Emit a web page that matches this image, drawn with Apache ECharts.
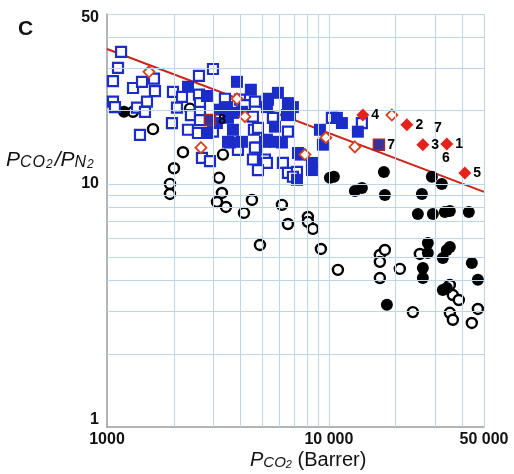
<!DOCTYPE html>
<html>
<head>
<meta charset="utf-8">
<script src="https://cdn.jsdelivr.net/npm/echarts@6/dist/echarts.min.js"></script>
<style>
  html, body { margin: 0; padding: 0; background: #ffffff; }
  #chart { width: 514px; height: 474px; }
</style>
</head>
<body>
<div id="chart"></div>
<script>
// Axis ticks and grid positions (log-log plot)
const xTickLabels = [1000, 10000, 50000];
const yTickLabels = [1, 10, 50];
const xGridValues = [2000, 3000, 4000, 5000, 6000, 7000, 8000, 9000, 10000, 20000, 30000, 40000, 50000];
const yGridValues = [2, 3, 4, 5, 6, 7, 8, 9, 10, 20, 30, 40, 50];

// Upper bound line: [PCO2, selectivity]
const upperBound = [[1000, 35.9], [50000, 9.27]];

// Blue open squares
const blueOpen = [
  [1157, 34.9], [1121, 30.0], [1064, 26.5], [1310, 24.8], [1438, 26.3], [1628, 27.1],
  [1645, 24.1], [1064, 21.8], [1086, 20.7], [1514, 21.8], [1365, 20.6], [1483, 19.8],
  [1408, 15.9], [1983, 23.9], [2177, 22.8], [2067, 20.6], [1962, 17.8], [2597, 27.8],
  [3003, 29.7], [2597, 23.3], [2389, 19.2], [2624, 21.5], [2317, 16.7], [2624, 19.8],
  [2624, 18.3], [2570, 16.2], [2679, 12.8], [2911, 12.4], [3400, 22.4], [3003, 16.4],
  [3974, 22.2], [4184, 21.1], [4547, 18.9], [4595, 16.7], [4740, 14.1], [5313, 22.4],
  [5593, 18.7], [6537, 16.4], [3892, 13.8], [4547, 12.6], [5149, 12.6],
  [5257, 12.2], [6206, 12.2], [4642, 21.8], [4789, 17.0], [6537, 11.1], [7178, 11.2],
  [6885, 10.7], [4789, 11.4], [10316, 18.7], [14079, 17.8], [4642, 14.1]
];

// Blue filled squares
const blueFilled = [
  [2317, 25.1], [2821, 23.0], [3852, 26.3], [4450, 24.4], [3228, 20.2], [3472, 20.7],
  [3695, 19.6], [3695, 16.7], [3582, 14.8], [4057, 14.9], [2821, 16.2], [3130, 17.8],
  [3508, 18.7], [4057, 19.8], [3508, 14.9], [5257, 20.7], [5891, 23.7], [6674, 20.7],
  [5712, 14.9], [6141, 14.8], [5257, 15.2], [6674, 19.2], [5313, 22.2], [6537, 21.5],
  [6885, 20.7], [6469, 19.2], [5712, 17.2], [5149, 14.9], [7252, 13.4], [8384, 12.2],
  [8384, 11.4], [7178, 10.4], [9110, 16.7], [9397, 14.5], [11445, 17.8], [13508, 16.4],
  [10866, 18.7], [7404, 13.2]
];

// Numbered squares
const numberedSquares = [[2911, 18.3, '8'], [16800, 14.5, '7']];

// Black open circles
const blackOpen = [
  [1310, 19.8], [1612, 16.8], [2365, 20.4], [2200, 13.5], [2004, 11.6], [1922, 10.0],
  [1922, 9.09], [3331, 13.2], [3196, 10.6], [3296, 9.18], [3130, 8.43], [3436, 8.04],
  [4142, 7.60], [4500, 8.59], [6141, 8.20], [6537, 6.84], [8043, 7.31], [8043, 6.98],
  [8472, 6.53], [4890, 5.61], [9205, 5.40], [10980, 4.43], [16970, 5.10], [17880, 5.35],
  [16970, 4.78], [20880, 4.47], [16970, 4.10], [25700, 5.15], [35080, 3.84], [36190, 3.49],
  [38500, 3.33], [35080, 2.95], [36190, 2.76], [44060, 2.68], [46920, 3.06], [23900, 2.97]
];

// Black filled circles
const blackFilled = [
  [1193, 19.8], [10105, 10.6], [10531, 10.7], [13094, 9.36], [14079, 9.63], [17690, 11.2],
  [17880, 9.01], [29110, 10.7], [32280, 10.0], [26240, 9.09], [25170, 7.52], [29410, 7.52],
  [33300, 7.67], [35080, 7.74], [42710, 7.67], [27920, 5.72], [27920, 5.20], [35080, 5.50],
  [34000, 5.35], [32620, 4.96], [26510, 4.51], [26510, 4.10], [44060, 4.73], [46920, 4.03],
  [32620, 3.66], [34000, 3.73], [18254, 3.18]
];

// Red open diamonds
const redOpen = [
  [1546, 28.9], [2651, 14.1], [3852, 22.4], [4184, 18.9], [7800, 13.2], [9694, 15.5],
  [13094, 14.2], [19224, 19.2]
];

// Red filled diamonds with their numbers
const redFilled = [
  [14227, 19.2, '4'], [22460, 17.5, '2'], [26510, 14.5, '3'], [34000, 14.6, '1'], [40980, 11.1, '5']
];

// Free-standing numbers
const freeNumbers = [[30970, 17.0, '7'], [33650, 12.8, '6']];

const FONT = 'Liberation Sans, Arial, sans-serif';
const BLUE = '#1b2cc8';
const RED = '#e3231b';
const GRID = '#bdd6ee';

const numLabel = {
  show: true,
  position: 'right',
  distance: 2,
  color: '#000',
  opacity: 1,
  fontFamily: FONT,
  fontWeight: 'bold',
  fontSize: 14,
  formatter: p => p.value[2]
};

function fmtX(v) {
  return v >= 10000 ? String(v).replace(/(\d)(?=(\d{3})+$)/g, '$1 ') : String(v);
}

const chart = echarts.init(document.getElementById('chart'), null, { renderer: 'canvas' });

chart.setOption({
  backgroundColor: '#ffffff',
  animation: false,
  grid: { left: 107, right: 30, top: 14, bottom: 47, containLabel: false },
  xAxis: {
    type: 'log',
    logBase: 10,
    min: 1000,
    max: 50000,
    axisLine: { show: true, lineStyle: { color: '#9a9a9a', width: 1.5 } },
    axisTick: { show: false },
    splitLine: { show: false },
    axisLabel: {
      customValues: xTickLabels,
      formatter: v => fmtX(v),
      color: '#111',
      fontFamily: FONT,
      fontWeight: 'bold',
      fontSize: 16,
      margin: 5
    }
  },
  yAxis: {
    type: 'log',
    logBase: 10,
    min: 1,
    max: 50,
    axisLine: { show: true, lineStyle: { color: '#9a9a9a', width: 1.5 } },
    axisTick: { show: false },
    splitLine: { show: false },
    axisLabel: {
      customValues: yTickLabels,
      formatter: v => '{t' + v + '|' + v + '}',
      color: '#111',
      fontFamily: FONT,
      fontWeight: 'bold',
      fontSize: 16,
      margin: 8,
      rich: {
        t1: { fontFamily: FONT, fontWeight: 'bold', fontSize: 16, color: '#111', padding: [0, 0, 14, 0] },
        t10: { fontFamily: FONT, fontWeight: 'bold', fontSize: 16, color: '#111' },
        t50: { fontFamily: FONT, fontWeight: 'bold', fontSize: 16, color: '#111', padding: [8, 0, 0, 0] }
      }
    }
  },
  graphic: [
    {
      type: 'text', left: 18, top: 19,
      style: { text: 'C', fontFamily: FONT, fontWeight: 'bold', fontSize: 21, fill: '#111' }
    },
    {
      type: 'text', left: 6, top: 150,
      style: {
        text: '{p|P}{s|C}{s|O}{b|2}{p|/P}{s|N}{b|2}',
        rich: {
          p: { fontFamily: FONT, fontStyle: 'italic', fontSize: 21, fill: '#111', verticalAlign: 'bottom' },
          s: { fontFamily: FONT, fontStyle: 'italic', fontSize: 16, fill: '#111', verticalAlign: 'bottom', padding: [0, 1, 0, 0] },
          b: { fontFamily: FONT, fontStyle: 'italic', fontSize: 12, fill: '#111', verticalAlign: 'bottom', padding: [0, 2, 0, 0] }
        }
      }
    },
    {
      type: 'text', left: 250, top: 450,
      style: {
        text: '{p|P}{s|CO}{b|2}{r| (Barrer)}',
        rich: {
          p: { fontFamily: FONT, fontStyle: 'italic', fontSize: 20, fill: '#111', verticalAlign: 'bottom' },
          s: { fontFamily: FONT, fontStyle: 'italic', fontSize: 15, fill: '#111', verticalAlign: 'bottom' },
          b: { fontFamily: FONT, fontStyle: 'italic', fontSize: 11, fill: '#111', verticalAlign: 'bottom' },
          r: { fontFamily: FONT, fontSize: 20, fill: '#111', verticalAlign: 'bottom' }
        }
      }
    }
  ],
  series: [
    {
      // grid lines on the log scales
      type: 'line',
      data: [],
      z: 0,
      silent: true,
      markLine: {
        silent: true,
        symbol: 'none',
        label: { show: false },
        lineStyle: { color: GRID, width: 1, type: 'solid' },
        animation: false,
        data: xGridValues.map(v => ({ xAxis: v })).concat(yGridValues.map(v => ({ yAxis: v })))
      }
    },
    {
      type: 'line',
      data: upperBound,
      z: 1,
      symbol: 'none',
      lineStyle: { color: '#cc2418', width: 2 },
      silent: true
    },
    {
      type: 'scatter', data: blackOpen, z: 2,
      symbol: 'circle', symbolSize: 10,
      itemStyle: { color: '#ffffff', borderColor: '#000', borderWidth: 2.4, opacity: 1 }
    },
    {
      type: 'scatter', data: blackFilled, z: 2,
      symbol: 'circle', symbolSize: 12,
      itemStyle: { color: '#000', borderColor: '#000', borderWidth: 0, opacity: 1 }
    },
    {
      type: 'scatter', data: blueOpen, z: 3,
      symbol: 'rect', symbolSize: 10,
      itemStyle: { color: '#ffffff', borderColor: BLUE, borderWidth: 2.2, opacity: 1 }
    },
    {
      type: 'scatter', data: blueFilled, z: 3,
      symbol: 'rect', symbolSize: 12,
      itemStyle: { color: BLUE, borderColor: BLUE, borderWidth: 0, opacity: 1 }
    },
    {
      type: 'scatter', data: redOpen, z: 4,
      symbol: 'diamond', symbolSize: 11,
      itemStyle: { color: '#ffffff', borderColor: '#d8401f', borderWidth: 1.8, opacity: 1 }
    },
    {
      type: 'scatter', data: numberedSquares, z: 4,
      symbol: 'rect', symbolSize: 11,
      itemStyle: { color: '#3b2f9a', borderColor: '#a8262a', borderWidth: 1.5, opacity: 1 },
      label: numLabel
    },
    {
      type: 'scatter', data: redFilled, z: 5,
      symbol: 'diamond', symbolSize: 13,
      itemStyle: { color: RED, borderColor: RED, borderWidth: 0, opacity: 1 },
      label: numLabel
    },
    {
      type: 'scatter', data: freeNumbers, z: 5,
      symbolSize: 0,
      itemStyle: { opacity: 1 },
      label: Object.assign({}, numLabel, { position: 'inside' })
    }
  ]
});
</script>
</body>
</html>
